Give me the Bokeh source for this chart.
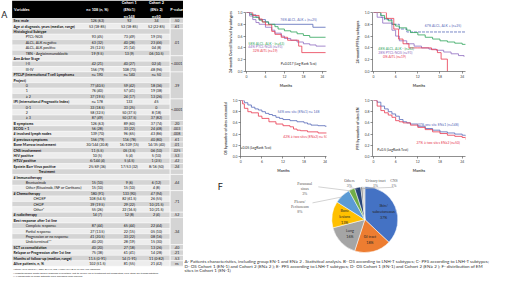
import math
from bokeh.plotting import figure
from bokeh.models import Range1d, FixedTicker, PrintfTickFormatter, Label
from bokeh.layouts import row, column
from bokeh.core.properties import value
from bokeh.embed import file_html
from bokeh.resources import INLINE

# ---------------- data: table A ----------------
table_header = ["Variables", "n= 108 (n, %)", "Cohort 1\n(EN≤1)\nn=148", "Cohort 2\n(EN≥ 2)\nn=50", "P-value"]
table_vars = [
    "Sex: male", "Age at diagnosis, years (median, range)", "Histological Subtype",
    "PTCL-NOS", "ALCL, ALK negative", "ALCL, ALK positive", "TBN - Angioimmunoblastic",
    "Ann Arbor Stage", "I-II", "III-IV",
    "PTCLP (International T cell Lymphoma", "Project)", "0", "1", "≥ 2",
    "IPI (International Prognostic Index)", "0-1", "2", "≥ 3",
    "B symptoms", "ECOG > 1", "# involved lymph nodes", "# previous symptoms",
    "Bone Marrow involvement", "CNS involvement", "HIV positive", "HTLV positive",
    "Epstein Barr Virus positive", "Treatment", "# Immunotherapy", "Brentuximab",
    "Other (Rituximab, INF or Cortisone)", "# Chemotherapy", "CHOEP", "CHOP", "Other*",
    "# radiotherapy", "Best response after 1st line", "Complete response", "Partial response",
    "Progression or no response", "Undetermined**", "SCT as consolidation",
    "Relapse or Progression after 1st line", "Months of follow-up (median, range)",
    "Alive patients, n, %",
]
table_level = [0, 0, 0, 1, 1, 1, 1, 0, 1, 1, 0, 0, 1, 1, 1, 0, 1, 1, 1, 0, 0, 0, 0, 0, 0, 0, 0, 0,
               3, 0, 1, 1, 0, 2, 2, 2, 0, 0, 1, 1, 1, 1, 0, 0, 0, 0]
table_n = ["126 (63)", "53 (18-85)", "", "93 (45)", "63 (32)", "25 (12.5)", "19 (9.5)", "",
           "42 (21)", "156 (79)", "n= 190", "", "77 (40.5)", "76 (40)", "37 (19.5)", "n= 178",
           "33 (18.5)", "58 (32.5)", "87 (49)", "126 (63)", "56 (28)", "139 (70)", "156 (79)",
           "30/144 (20.8)", "11 (5.5)", "10 (5)", "6/144 (4)", "25/69 (36)", "", "", "15 (10)",
           "15 (10)", "180 (91)", "108 (54.5)", "39 (19.5)", "55 (26)", "14 (7)", "", "87 (44)",
           "27 (13.5)", "41 (20.5)", "40 (20)", "40 (20)", "75 (38)", "11.5 (0-91)", "102 (51.5)"]
table_c1 = ["92", "53 (18-85)", "", "73 (49)", "40 (28)", "21 (14)", "13 (9)", "", "40 (27)",
            "108 (73)", "n= 140", "", "59 (42)", "57 (41)", "24 (17)", "133", "33 (25)",
            "50 (37.5)", "50 (37.5)", "89 (60)", "33 (22)", "96 (65)", "116 (78)", "16/109 (15)",
            "05 (3.5)", "5 (4)", "5 (4.5)", "17/53 (32)", "", "", "9 (6)", "15 (10)", "133 (90)",
            "82 (61.5)", "29 (22)", "22 (16.5)", "12 (8)", "", "65 (44)", "22 (15)", "33 (22)",
            "28 (19)", "27 (18)", "61 (41)", "14 (1-91)", "81 (55)"]
table_c2 = ["34", "52 (22-85)", "", "19 (35)", "23 (46)", "04 (8)", "06 (10.5)", "", "02 (4)",
            "48 (96)", "n= 50", "", "18 (36)", "19 (38)", "13 (26)", "45", "0", "8 (18)",
            "37 (82)", "37 (74)", "24 (48)", "43 (86)", "40 (80)", "14/35 (40)", "06 (10)",
            "5 (10)", "1 (2.5)", "8/16 (50)", "", "", "6 (12)", "4 (8)", "47 (94)", "26 (55)",
            "10 (21.5)", "10 (21.5)", "2 (4)", "", "22 (44)", "05 (10)", "08 (16)", "15 (30)",
            "13 (26)", "14 (28)", "11 (0-82)", "21 (42)"]
pval_text = [".50", ".61", ".01", "<.0001", ".39", "<.0001", ".20", ".003", ".008", ".61", ".01",
             ".025", ".53", ".42", ".24", "", ".44", ".71", ".52", ".34", ".40", ".21", ".53", "ns"]
pval_first = [0, 1, 2, 7, 10, 15, 19, 20, 21, 22, 23, 24, 25, 26, 27, 28, 29, 32, 36, 37, 42, 43, 44, 45]
pval_last = [0, 1, 6, 9, 14, 18, 19, 20, 21, 22, 23, 24, 25, 26, 27, 28, 31, 35, 36, 41, 42, 43, 44, 45]
footnotes = ["*Other: CVP, EPOCH, GDP, DHAP, ICE, Hyper-CVAD or CHOP-like regimens",
             "**Undetermined: death before response evaluation, lost to follow-up or treatment not completed; SCT: stem cell transplantation",
             "** Missing data of some patients were excluded from analysis"]

# ---------------- data: Kaplan-Meier curves ----------------
month_ticks = [0, 6, 12, 18, 24]
surv_ticks = [0.0, 0.2, 0.4, 0.6, 0.8, 1.0]

B_alkpos_t = [0, 1.5, 3, 4, 6, 7, 21, 25]
B_alkpos_s = [1.0, 0.96, 0.92, 0.88, 0.84, 0.80, 0.75, 0.75]
B_alkneg_t = [0, 1, 2, 4, 5, 7, 9, 10, 12, 14, 16, 18, 20, 25]
B_alkneg_s = [1.0, 0.97, 0.92, 0.87, 0.84, 0.80, 0.76, 0.72, 0.69, 0.67, 0.64, 0.61, 0.58, 0.58]
B_ptcl_t = [0, 1, 2, 3, 4, 6, 8, 9, 11, 12, 14, 16, 18, 20, 22, 25]
B_ptcl_s = [1.0, 0.94, 0.88, 0.83, 0.80, 0.75, 0.70, 0.65, 0.60, 0.56, 0.53, 0.50, 0.47, 0.45, 0.43, 0.43]
B_aitl_t = [0, 2, 4, 5, 6, 8, 9, 11, 13, 16.5, 17.5, 25]
B_aitl_s = [1.0, 0.95, 0.89, 0.84, 0.79, 0.68, 0.63, 0.58, 0.53, 0.43, 0.32, 0.32]

C_alkpos_t = [0, 2, 3, 5, 7, 9, 25]
C_alkpos_s = [1.0, 0.92, 0.88, 0.80, 0.72, 0.67, 0.67]
C_alkneg_t = [0, 2, 3, 4, 5, 6, 7, 9, 10, 12, 14, 16, 18, 20, 22, 24, 25]
C_alkneg_s = [1.0, 0.95, 0.90, 0.86, 0.80, 0.77, 0.74, 0.70, 0.66, 0.62, 0.58, 0.55, 0.52, 0.50, 0.48, 0.46, 0.46]
C_ptcl_t = [0, 1, 2.5, 5, 6, 7, 9, 11, 13, 15, 17, 19, 21, 23, 24.5]
C_ptcl_s = [1.0, 0.92, 0.82, 0.70, 0.60, 0.52, 0.47, 0.43, 0.40, 0.38, 0.36, 0.33, 0.30, 0.27, 0.25]
C_aitl_t = [0, 3.5, 5.5, 6.8, 8, 9.6, 12, 15.7, 17.3, 18.3, 20]
C_aitl_s = [1.0, 0.90, 0.72, 0.55, 0.47, 0.40, 0.40, 0.37, 0.32, 0.21, 0.0]

D_one_t = [0, 1, 2, 3, 4, 5, 6, 7, 8, 9, 10, 11, 12, 14, 16, 18, 19, 20, 22, 24, 24.5]
D_one_s = [1.0, 0.96, 0.92, 0.88, 0.85, 0.83, 0.80, 0.77, 0.75, 0.73, 0.70, 0.68, 0.66, 0.64, 0.62, 0.60, 0.58, 0.56, 0.55, 0.54, 0.54]
D_two_t = [0, 0.5, 1, 2, 3, 5, 6, 8, 10, 12, 14, 15, 16, 17, 19, 22, 24.5]
D_two_s = [1.0, 0.94, 0.86, 0.80, 0.78, 0.72, 0.68, 0.62, 0.58, 0.55, 0.53, 0.49, 0.47, 0.46, 0.44, 0.42, 0.42]

E_one_t = [0, 1, 2, 3, 4, 5, 6, 7, 8, 9, 10, 12, 14, 16, 18, 20, 22, 24, 25]
E_one_s = [1.0, 0.97, 0.90, 0.85, 0.80, 0.76, 0.72, 0.66, 0.62, 0.60, 0.58, 0.54, 0.50, 0.47, 0.44, 0.42, 0.40, 0.38, 0.36]
E_two_t = [0, 1, 2, 3, 4, 5, 6, 7, 8, 10, 12, 14, 16, 18, 20, 22, 24, 25]
E_two_s = [1.0, 0.90, 0.82, 0.78, 0.74, 0.70, 0.64, 0.62, 0.60, 0.56, 0.52, 0.48, 0.44, 0.41, 0.38, 0.36, 0.34, 0.30]

# ---------------- data: pie F ----------------
pie_labels = ["Skin/\nsubcutaneous", "GI tract", "Lung", "Bone\nlesions", "Pleura/\nPeritoneum",
              "Paranasal\nsinus", "Others", "Urinary tract", "CNS"]
pie_pct = [37, 18, 16, 13, 8, 3, 3, 1, 1]
pie_colors = ["#4472C4", "#ED7D31", "#A5A5A5", "#FFC000", "#5B9BD5", "#70AD47", "#264478", "#7F7F7F", "#C9C9C9"]

caption_lines = [
    "A- Patients characteristics, including group EN-1 and EN≥ 2 . Statistical analysis. B- OS according to LNH-T subtypes; C- PFS according to LNH-T subtypes;",
    "D- OS Cohort 1 (EN-1) and Cohort 2 (EN≥ 2 ); E- PFS according to LNH-T subtypes; D- OS Cohort 1 (EN-1) and Cohort 2 (EN≥ 2 ); F- distribution of EM",
    "sites in Cohort 1 (EN-1)",
]

FONT = value("Lato")
SERIF = value("Liberation Serif")


def canvas(w, h, xr, yr):
    p = figure(width=w, height=h, x_range=Range1d(*xr), y_range=Range1d(*yr),
               output_backend="svg", toolbar_location=None, min_border=0,
               x_axis_location=None, y_axis_location=None)
    p.grid.visible = False
    p.outline_line_color = None
    p.background_fill_color = "white"
    p.border_fill_color = "white"
    return p


# ---------------- table figure ----------------
T = canvas(183, 277, (0, 189), (293, 0))
ROW_TOP = 18.5
ROW_H = (281.0 - ROW_TOP) / len(table_vars)
tops = [ROW_TOP + i * ROW_H for i in range(len(table_vars))]
mids = [t + ROW_H / 2 for t in tops]
fills = ["#d4d4d4" if i % 2 == 0 else "#ededed" for i in range(len(table_vars))]
T.quad(left=12, right=175, top=tops, bottom=[t + ROW_H for t in tops], fill_color=fills,
       line_color="white", line_width=0.4)
# header
T.quad(left=12, right=189, top=0, bottom=ROW_TOP, fill_color="black", line_color=None)
hx = [14, 100, 133, 161, 182]
T.text(x=[hx[0]], y=[9.5], text=[table_header[0]], text_font=FONT, text_font_size="3.8px",
       text_font_style="bold", text_color="white", text_align="left", text_baseline="middle")
T.text(x=hx[1:], y=[9.5] * 4, text=table_header[1:], text_font=FONT, text_font_size="3.8px",
       text_font_style="bold", text_color="white", text_align="center", text_baseline="middle",
       text_line_height=1.35)
# p-value cells
pt = [tops[a] for a in pval_first]
pb = [tops[b] + ROW_H for b in pval_last]
T.quad(left=175.3, right=189, top=pt, bottom=pb, fill_color="#d4d4d4", line_color="white", line_width=0.6)
T.text(x=[182] * len(pval_text), y=[(a + b) / 2 for a, b in zip(pt, pb)], text=pval_text,
       text_font=FONT, text_font_size="3.6px", text_color="#222222", text_align="center",
       text_baseline="middle")
# variable labels
indent = {0: 13.5, 1: 26, 2: 34}
for lvl, style in [(0, "bold"), (1, "normal"), (2, "normal")]:
    idx = [i for i, l in enumerate(table_level) if l == lvl]
    T.text(x=[indent[lvl]] * len(idx), y=[mids[i] for i in idx], text=[table_vars[i] for i in idx],
           text_font=FONT, text_font_size="3.6px", text_font_style=style, text_color="#111111",
           text_align="left", text_baseline="middle")
idx3 = [i for i, l in enumerate(table_level) if l == 3]
T.text(x=[48] * len(idx3), y=[mids[i] for i in idx3], text=[table_vars[i] for i in idx3],
       text_font=FONT, text_font_size="3.6px", text_font_style="bold", text_color="#111111",
       text_align="center", text_baseline="middle")
for cx, col in [(100, table_n), (133, table_c1), (161, table_c2)]:
    T.text(x=[cx] * len(col), y=mids, text=col, text_font=FONT, text_font_size="3.6px",
           text_color="#111111", text_align="center", text_baseline="middle")
T.text(x=[13] * 3, y=[284, 287.5, 291], text=footnotes, text_font=FONT, text_font_size="2.6px",
       text_color="#333333", text_align="left", text_baseline="middle")
T.text(x=[4], y=[15], text=["A"], text_font=FONT, text_font_size="9px", text_color="#222222",
       text_align="center", text_baseline="middle")


# ---------------- KM figures ----------------
def km(w, h, lb, rb, tb, bb, xr, ylabel):
    p = figure(width=w, height=h, x_range=Range1d(*xr), y_range=Range1d(0, 1.0),
               output_backend="svg", toolbar_location=None,
               min_border_left=lb, min_border_right=rb, min_border_top=tb, min_border_bottom=bb)
    p.grid.visible = False
    p.outline_line_color = None
    p.xaxis.ticker = FixedTicker(ticks=month_ticks)
    p.yaxis.ticker = FixedTicker(ticks=surv_ticks)
    p.yaxis.formatter = PrintfTickFormatter(format="%.1f")
    for ax in p.axis:
        ax.major_label_text_font_size = "3.4px"
        ax.major_label_text_font = "Lato"
        ax.axis_label_text_font_size = "3.6px"
        ax.axis_label_text_font = "Lato"
        ax.axis_label_text_font_style = "bold"
        ax.major_tick_out = 2
        ax.major_tick_in = 0
        ax.minor_tick_out = 0
        ax.minor_tick_in = 0
        ax.major_label_standoff = 1
        ax.axis_label_standoff = 2
        ax.axis_line_width = 0.6
        ax.major_tick_line_width = 0.6
        ax.axis_line_color = "#444444"
        ax.major_tick_line_color = "#444444"
    p.xaxis.axis_label = "Months"
    p.yaxis.axis_label = ylabel
    return p


def note(p, x, y, txt, color, align="left", size="3.4px"):
    p.add_layout(Label(x=x, y=y, text=txt, text_color=color, text_font="Lato", text_font_size=size,
                       text_align=align, text_baseline="middle"))


BLUE, GREEN, PURPLE, RED = "#5568b8", "#2fa55a", "#8f6cc0", "#e8384f"

B = km(151, 90, 62, 8, 12, 13, (-0.3, 25.3), "24-month Overall Survival by subtypes")
B.step(B_alkpos_t, B_alkpos_s, mode="after", line_color=BLUE, line_width=0.8)
B.step(B_alkneg_t, B_alkneg_s, mode="after", line_color=GREEN, line_width=0.8)
B.step(B_ptcl_t, B_ptcl_s, mode="after", line_color=PURPLE, line_width=0.8)
B.step(B_aitl_t, B_aitl_s, mode="after", line_color=RED, line_width=0.8)
note(B, 16.5, 0.88, "76% ALCL, ALK + (n=25)", BLUE, "center")
note(B, 0.6, 0.465, "58% ALCL, ALK - (n=63)", GREEN)
note(B, 0.6, 0.41, "44% PTCL-NOS (n=93)", PURPLE)
note(B, 2.0, 0.355, "32% AITL (n=19)", RED)
note(B, 16.5, 0.13, "P=0.017 (Log Rank Test)", "#222222", "center")
note(B, -8.2, 0.96, "B", "#222222", "center", "9px")

C = km(170, 90, 38, 39, 11, 17, (-0.26, 24.9), "24-month PFS by subtypes")
C.step(C_alkpos_t, C_alkpos_s, mode="after", line_color=BLUE, line_width=0.8, line_dash="3 1")
C.step(C_alkneg_t, C_alkneg_s, mode="after", line_color=GREEN, line_width=0.8)
C.step(C_ptcl_t, C_ptcl_s, mode="after", line_color=PURPLE, line_width=0.8)
C.step(C_aitl_t, C_aitl_s, mode="after", line_color=RED, line_width=0.8)
note(C, 18.8, 0.77, "67% ALCL, ALK + (n=25)", BLUE, "center")
note(C, 1.3, 0.38, "48% ALCL, ALK - (n=63)", GREEN)
note(C, 1.3, 0.31, "28% PTCL-NOS (n=93)", PURPLE)
note(C, 2.6, 0.24, "0% AITL (n=19)", RED)
note(C, -4.5, 0.95, "C", "#222222", "center", "9px")

D = km(151, 85, 57, 8, 9, 12, (-0.1, 24.4), "OS by number of sites extranodal")
D.step(D_one_t, D_one_s, mode="after", line_color=BLUE, line_width=0.8)
D.step(D_two_t, D_two_s, mode="after", line_color=RED, line_width=0.8)
note(D, 16.4, 0.79, "54% one site (EN≤1) n= 148", BLUE, "center")
note(D, 18.4, 0.35, "42% ≥ two sites (EN≥2) n= 50", RED, "center")
note(D, 4.0, 0.145, "P=0.05 (LogRank Test)", "#222222", "center")
note(D, -5.6, 0.98, "D", "#222222", "center", "9px")

E = km(170, 85, 38, 39, 10, 12, (-0.26, 24.9), "PFS by number of sites EN")
E.step(E_one_t, E_one_s, mode="after", line_color=BLUE, line_width=0.8)
E.step(E_two_t, E_two_s, mode="after", line_color=RED, line_width=0.8)
note(E, 17.5, 0.57, "37% one site EN≤1 (n=148)", BLUE, "center")
note(E, 17.5, 0.25, "27% ≥ two sites EN≥2 (n=50)", RED, "center")
note(E, 5.2, 0.11, "P=0.5 (LogRank Test)", "#222222", "center")
note(E, -4.5, 0.98, "E", "#222222", "center", "9px")

# ---------------- pie figure + caption ----------------
F = canvas(321, 102, (189, 520), (-293, -185))
CX, CY, R = 376, -231.7, 34.0
total = float(sum(pie_pct))
cum = [sum(pie_pct[:i]) / total for i in range(len(pie_pct) + 1)]
starts = [math.pi / 2 - 2 * math.pi * c for c in cum[:-1]]
ends = [math.pi / 2 - 2 * math.pi * c for c in cum[1:]]
F.wedge(x=CX, y=CY, radius=R, start_angle=starts, end_angle=ends, direction="clock",
        fill_color=pie_colors, line_color="white", line_width=0.5)
mid_ang = [(s + e) / 2 for s, e in zip(starts, ends)]
sxr = (R * 321 / 331.0)  # screen radius in px
inside = [0, 1, 2, 3]
F.text(x=[CX] * 4, y=[CY] * 4,
       text=[pie_labels[i] + "\n" + str(pie_pct[i]) + "%" for i in inside],
       x_offset=[0.62 * sxr * math.cos(mid_ang[i]) for i in inside],
       y_offset=[-0.62 * sxr * math.sin(mid_ang[i]) for i in inside],
       text_font=FONT, text_font_size="3.7px", text_color="#262626", text_align="center",
       text_baseline="middle", text_line_height=1.2)
# outside labels with leaders
out_idx = [4, 5, 6, 7, 8]
out_x = [309, 314, 360, 387, 406]
out_y = [-218, -199, -193.5, -193.5, -193.5]
F.text(x=out_x, y=out_y, text=[pie_labels[i] + "\n" + str(pie_pct[i]) + "%" for i in out_idx],
       text_font=SERIF, text_font_size="3.9px", text_color="#595959", text_align="center",
       text_baseline="middle", text_line_height=1.25)
lead_x0 = [322, 328, 360, 387, 406]
lead_y0 = [-214, -197, -197.5, -197.5, -197.5]
ex = [CX + R * math.cos(mid_ang[i]) for i in out_idx]
ey = [CY + R * 0.97 * math.sin(mid_ang[i]) for i in out_idx]
F.segment(x0=lead_x0, y0=lead_y0, x1=ex, y1=ey, line_color="#a6a6a6", line_width=0.5)
F.text(x=[190] * 3, y=[-276, -281, -286], text=caption_lines, text_font=FONT, text_font_size="4.5px",
       text_color="#333333", text_align="left", text_baseline="middle")
F.text(x=[227], y=[-197], text=["F"], text_font=FONT, text_font_size="9px", text_color="#222222",
       text_align="center", text_baseline="middle")

layout = row(T, column(row(B, C), row(D, E), F))
open("out.html", "w").write(file_html(layout, INLINE))
